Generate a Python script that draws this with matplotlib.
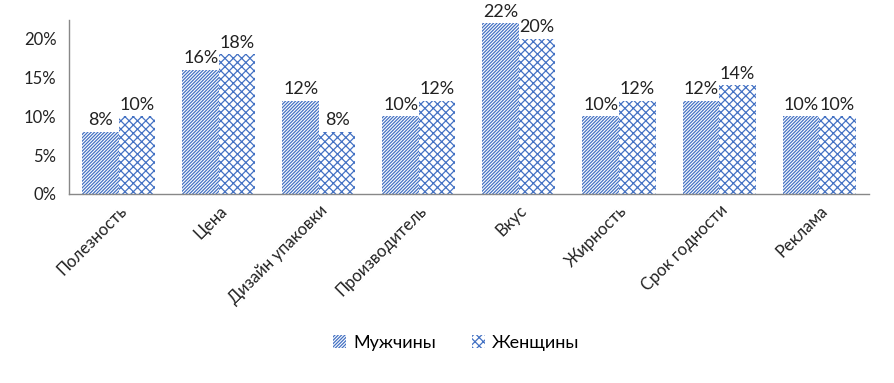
import numpy as np
import matplotlib as mpl
mpl.use('Agg')
import matplotlib.pyplot as plt
from matplotlib.ticker import FuncFormatter

plt.rcParams['font.family'] = ['Lato', 'DejaVu Sans']
plt.rcParams['hatch.linewidth'] = 0.9
plt.rcParams['hatch.color'] = '#4472C4'

categories = ["Полезность", "Цена", "Дизайн упаковки", "Производитель",
              "Вкус", "Жирность", "Срок годности", "Реклама"]
men = [0.08, 0.16, 0.12, 0.10, 0.22, 0.10, 0.12, 0.10]
women = [0.10, 0.18, 0.08, 0.12, 0.20, 0.12, 0.14, 0.10]

BLUE = '#4472C4'
x = np.arange(len(categories))
w = 0.365

fig = plt.figure(figsize=(8.95, 3.83), dpi=100)
ax = fig.add_axes([0.077, 0.4935, 0.894, 0.4545])

b1 = ax.bar(x - w/2, men, w, facecolor='white', edgecolor=BLUE, hatch='//////////',
            linewidth=0, label="Мужчины")
b2 = ax.bar(x + w/2, women, w, facecolor='white', edgecolor=BLUE, hatch='xxxx',
            linewidth=0, label="Женщины")

for bars, vals in [(b1, men), (b2, women)]:
    for r, v in zip(bars, vals):
        ax.text(r.get_x() + r.get_width()/2, v + 0.005, f"{v*100:.0f}%",
                ha='center', va='bottom', fontsize=13, color='#222222')

ax.set_xlim(-0.5, len(categories) - 0.5)
ax.set_ylim(0, 0.2245)
ax.set_yticks([0, 0.05, 0.10, 0.15, 0.20])
ax.yaxis.set_major_formatter(FuncFormatter(lambda v, p: f"{v*100:.0f}%"))
ax.set_xticks(x)
ax.set_xticklabels(categories, rotation=45, ha='right', rotation_mode='anchor')
ax.tick_params(axis='both', length=0, labelsize=12, colors='#222222')
ax.tick_params(axis='x', pad=6)
ax.tick_params(axis='y', pad=9)
for s in ['top', 'right']:
    ax.spines[s].set_visible(False)
for s in ['left', 'bottom']:
    ax.spines[s].set_color('#888888')
    ax.spines[s].set_linewidth(1)

fig.legend(handles=[b1, b2], loc='center', bbox_to_anchor=(0.51, 0.105), ncol=2,
           frameon=False, fontsize=13, handlelength=0.7, handleheight=0.7,
           columnspacing=2.0, handletextpad=0.4)

fig.savefig("out.png", dpi=100, facecolor='white')
